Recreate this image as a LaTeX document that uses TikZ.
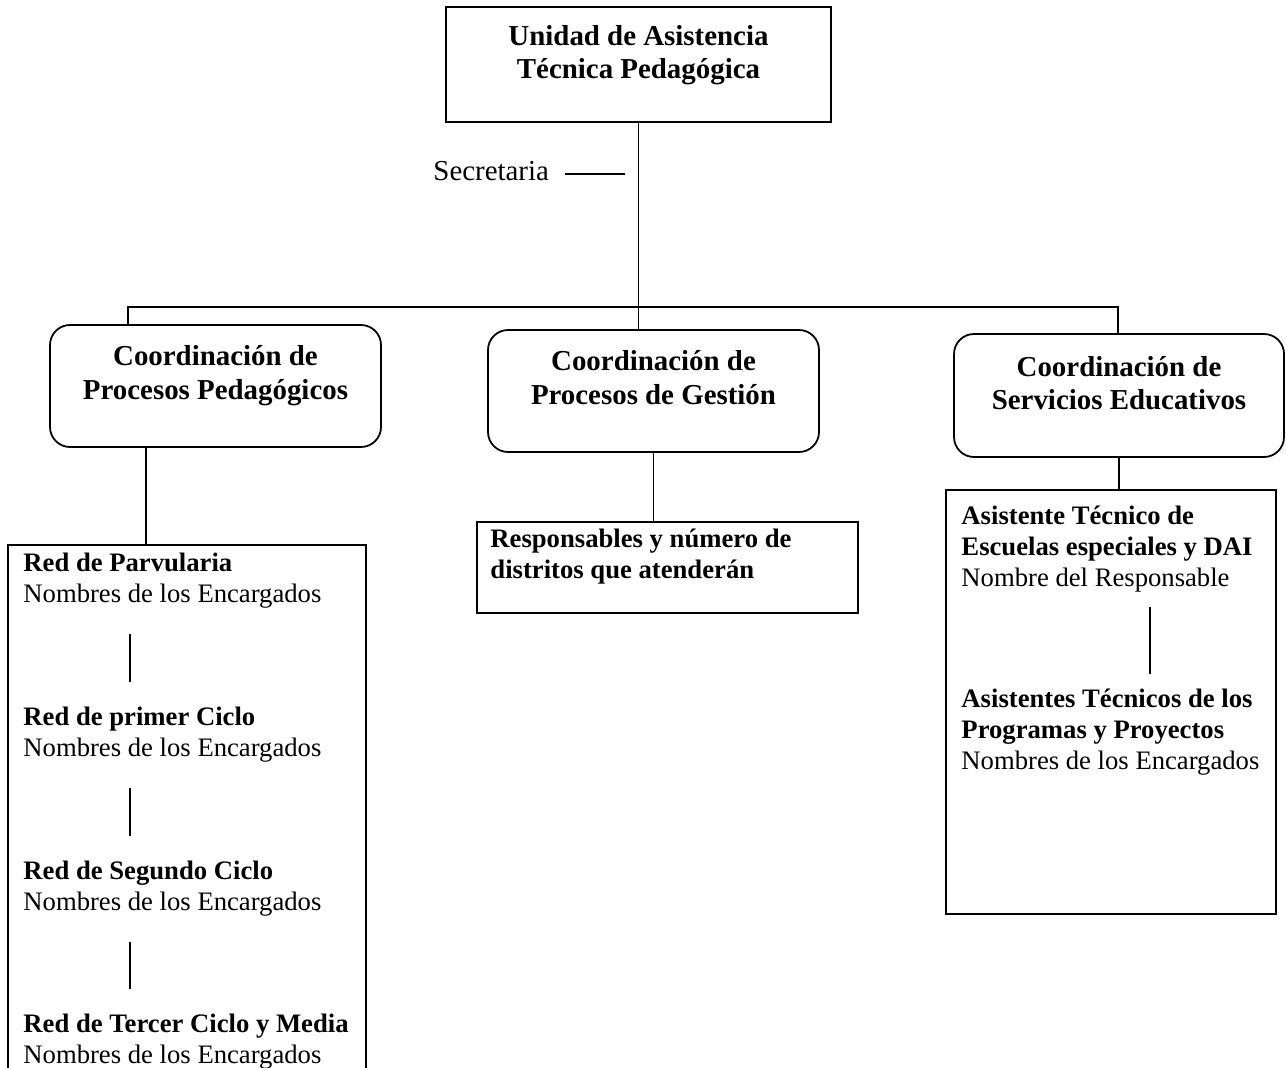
\documentclass[tikz,border=0pt]{standalone}
\usepackage{fontspec}
\setmainfont{Liberation Serif}
\usetikzlibrary{positioning}

\begin{document}
\begin{tikzpicture}[x=0.45pt,y=-0.45pt,
    boxstyle/.style 2 args={
      draw=black,
      line width=0.8pt,
      inner sep=0pt,
      minimum width=#1*0.45pt,
      minimum height=#2*0.45pt
    },
    coordbox/.style 2 args={
      boxstyle={#1}{#2},
      rounded corners=9pt},
    title/.style={font={\fontsize{13}{15}\selectfont\bfseries}, align=center, inner sep=0pt},
    mylabel/.style={font={\fontsize{12}{13.8}\selectfont}, align=left, inner sep=0pt, anchor=north west},
    link/.style={line width=0.5pt},
    sep/.style={line width=0.6pt, shorten <=#1, shorten >=#1},
    sep/.default=11.25pt
  ]

  \path[use as bounding box, fill=white] (0,0) rectangle (1286,1067);

  % head
  \node[boxstyle={385}{115}] (unit) at (638.5,64.5) {};
  \node[title, below=8.5pt of unit.north] (unit-text) {Unidad de Asistencia\\Técnica Pedagógica};

  \coordinate (secre-a) at (565,174);
  \coordinate (secre-b) at (625,174);
  \node[mylabel, anchor=west, font={\fontsize{13}{15}\selectfont}] (secre) at (433,171) {Secretaria};

  %% coordinations
  \node[coordbox={331}{122}] (pedag) at (215.5,386) {};
  \node[coordbox={331}{122}] (gestion) at (653.5,391) {};
  \node[coordbox={330}{123}] (servic) at (1119,395.5) {};

  \node[title, below=9.5pt of pedag.north] (pedag-text) {Coordinación de\\Procesos Pedagógicos};
  \node[title, below=9.5pt of gestion.north] (gestion-text) {Coordinación de\\Procesos de Gestión};
  \node[title, below=10.3pt of servic.north] (servic-text) {Coordinación de\\Servicios Educativos};

  %% lower boxes
  \node[boxstyle={358}{535}] (redes) at (187,812.5) {};
  \node[boxstyle={381}{91}] (resp) at (667.5,567.5) {};
  \node[boxstyle={330}{424}] (asist) at (1111,702) {};

  % redes
  \node[mylabel] (red1) at (23,553) {\textbf{Red de Parvularia}\\Nombres de los Encargados};
  \node[mylabel] (red2) at (23,707) {\textbf{Red de primer Ciclo}\\Nombres de los Encargados};
  \node[mylabel] (red3) at (23,861) {\textbf{Red de Segundo Ciclo}\\Nombres de los Encargados};
  \node[mylabel] (red4) at (23,1014) {\textbf{Red de Tercer Ciclo y Media}\\Nombres de los Encargados};

  % gestion
  \node[mylabel, font={\fontsize{12}{13.8}\selectfont\bfseries}] (resp-text) at (490,529)
    {Responsables y número de\\distritos que atenderán};

  % servicios
  \node[mylabel] (asist1) at (961,506)
    {\textbf{Asistente Técnico de}\\\textbf{Escuelas especiales y DAI}\\Nombre del Responsable};
  \node[mylabel] (asist2) at (961,689)
    {\textbf{Asistentes Técnicos de los}\\\textbf{Programas y Proyectos}\\Nombres de los Encargados};

  %%%% links
  \coordinate (bus-l) at (128,307);
  \coordinate (bus-r) at (1118,307);
  \coordinate (pedag-x) at (146,0);
  \coordinate (red-x) at (130,0);
  \coordinate (asist-x) at (1150,0);

  \draw[link] (unit.south) -- (unit.south |- gestion.north);
  \draw[link] (pedag.north -| bus-l) -- (bus-l) -- (bus-r) -- (servic.north -| bus-r);
  \draw[link] (secre-a) -- (secre-b);

  \draw[link] (pedag.south -| pedag-x) -- (redes.north -| pedag-x);
  \draw[link] (gestion.south) -- (gestion.south |- resp.north);
  \draw[link] (servic.south) -- (servic.south |- asist.north);

  \foreach \a/\b in {red1/red2, red2/red3, red3/red4}
    \draw[sep] (\a.south -| red-x) -- (\b.north -| red-x);
  \draw[sep=6.75pt] (asist1.south -| asist-x) -- (asist2.north -| asist-x);

\end{tikzpicture}
\end{document}
